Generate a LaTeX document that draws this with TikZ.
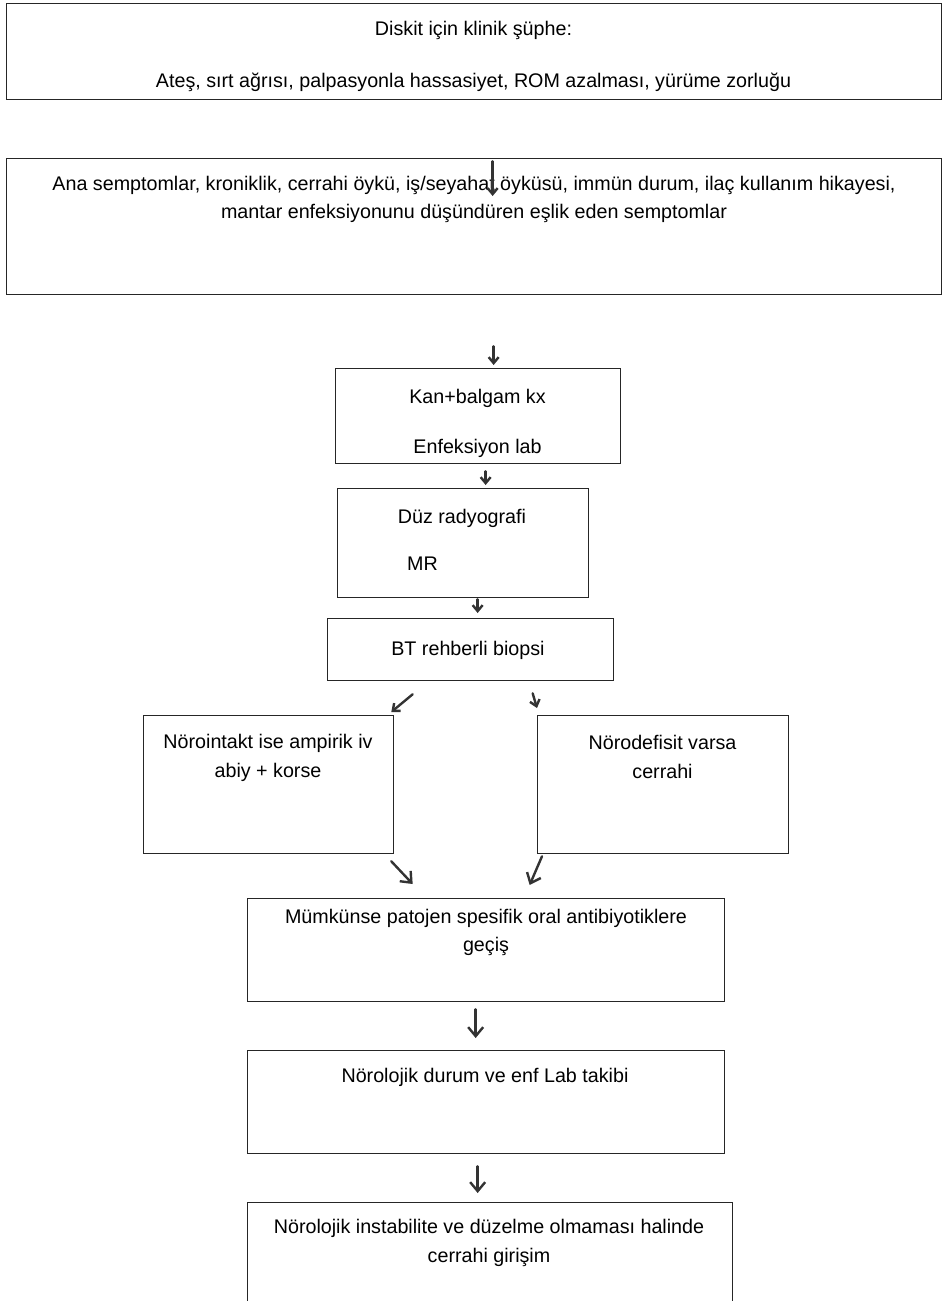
\documentclass[tikz,border=0pt]{standalone}
\usepackage{fontspec}
\setmainfont{Liberation Sans}
\usetikzlibrary{arrows,arrows.meta}
\usetikzlibrary{positioning}

\tikzset{
  kutu/.style={draw=black!85, line width=1.3pt, inner sep=0pt, anchor=north west},
  yazi/.style={anchor=base, inner sep=0pt, font=\fontsize{19.7}{24}\selectfont},
  ok/.style={-{Straight Barb[length=6pt,width=10pt]}, line width=2.4pt, draw=black!80, line cap=round},
  okb/.style={ok, -{Straight Barb[length=9pt,width=15pt]}},
}

\begin{document}
\begin{tikzpicture}[x=1pt,y=-1pt]

\useasboundingbox (0,0) rectangle (942,1301);

%%% kutular
\node[kutu, minimum width=935pt, minimum height=96pt]  (diskit)  at (6,3) {};
\node[kutu, minimum width=935pt, minimum height=136pt] (ana)     at (6,158) {};
\node[kutu, minimum width=285pt, minimum height=95pt]  (kan)     at (335,368) {};
\node[kutu, minimum width=251pt, minimum height=109pt] (duz)     at (337,488) {};
\node[kutu, minimum width=286pt, minimum height=62pt]  (bt)      at (327,618) {};
\node[kutu, minimum width=250pt, minimum height=138pt] (noro)    at (143,715) {};
\node[kutu, minimum width=251pt, minimum height=138pt] (defisit) at (537,715) {};
\node[kutu, minimum width=477pt, minimum height=103pt] (gecis)   at (247,898) {};
\node[kutu, minimum width=477pt, minimum height=103pt] (takip)   at (247,1050) {};
\node[kutu, minimum width=485pt, minimum height=120pt] (girisim) at (247,1202) {};

%%% yazilar
\node[yazi] (diskitA) at (473.5,35) {Diskit için klinik şüphe:};
\node[yazi] (diskitB) at (473.5,87) {Ateş, sırt ağrısı, palpasyonla hassasiyet, ROM azalması, yürüme zorluğu};

\node[yazi] (anaA) at (474,190.5) {Ana semptomlar, kroniklik, cerrahi öykü, iş/seyahat öyküsü, immün durum, ilaç kullanım hikayesi,};
\node[yazi] (anaB) at (474,218.5) {mantar enfeksiyonunu düşündüren eşlik eden semptomlar};

\node[yazi] (kanA) at (477.5,403) {Kan+balgam kx};
\node[yazi] (kanB) at (477.5,453) {Enfeksiyon lab};

\node[yazi] (duzA) at (462,523) {Düz radyografi};
\node[yazi, anchor=base west] (duzB) at (407,570) {MR};

\node[yazi] (btA) at (468,655) {BT rehberli biopsi};

\node[yazi] (noroA) at (268,748) {Nörointakt ise ampirik iv};
\node[yazi] (noroB) at (268,777) {abiy + korse};

\node[yazi] (defisitA) at (662.5,749) {Nörodefisit varsa};
\node[yazi] (defisitB) at (662.5,778) {cerrahi};

\node[yazi] (gecisA) at (486,923) {Mümkünse patojen spesifik oral antibiyotiklere};
\node[yazi] (gecisB) at (486,951) {geçiş};

\node[yazi] (takipA) at (485,1082) {Nörolojik durum ve enf Lab takibi};

\node[yazi] (girisimA) at (489,1233) {Nörolojik instabilite ve düzelme olmaması halinde};
\node[yazi] (girisimB) at (489,1262) {cerrahi girişim};

%%% oklar
\draw[ok] ([shift={(18.5,61)}]diskit.south) -- ([shift={(18.5,38)}]ana.north);
\draw[ok] ([shift={(19.5,51)}]ana.south) -- ([shift={(15.5,-3)}]kan.north);
\draw[ok] ([shift={(7.5,7)}]kan.south) -- ([shift={(22.5,-3)}]duz.north);
\draw[ok] ([shift={(14.5,1)}]duz.south) -- ([shift={(7,-5)}]bt.north);
\draw[ok] ([shift={(-58,13)}]bt.south) -- ([shift={(-3,-3)}]noro.north east);
\draw[ok] ([shift={(62,12)}]bt.south) -- ([shift={(0,-7)}]defisit.north west);
\draw[okb] ([shift={(-3,7)}]noro.south east) -- ([shift={(-73.5,-14)}]gecis.north);
\draw[okb] ([shift={(5,2)}]defisit.south west) -- ([shift={(43.5,-13)}]gecis.north);
\draw[okb] ([shift={(-10.5,7)}]gecis.south) -- ([shift={(-10.5,-12)}]takip.north);
\draw[okb] ([shift={(-8.5,12)}]takip.south) -- ([shift={(-12.5,-9)}]girisim.north);

\end{tikzpicture}
\end{document}
